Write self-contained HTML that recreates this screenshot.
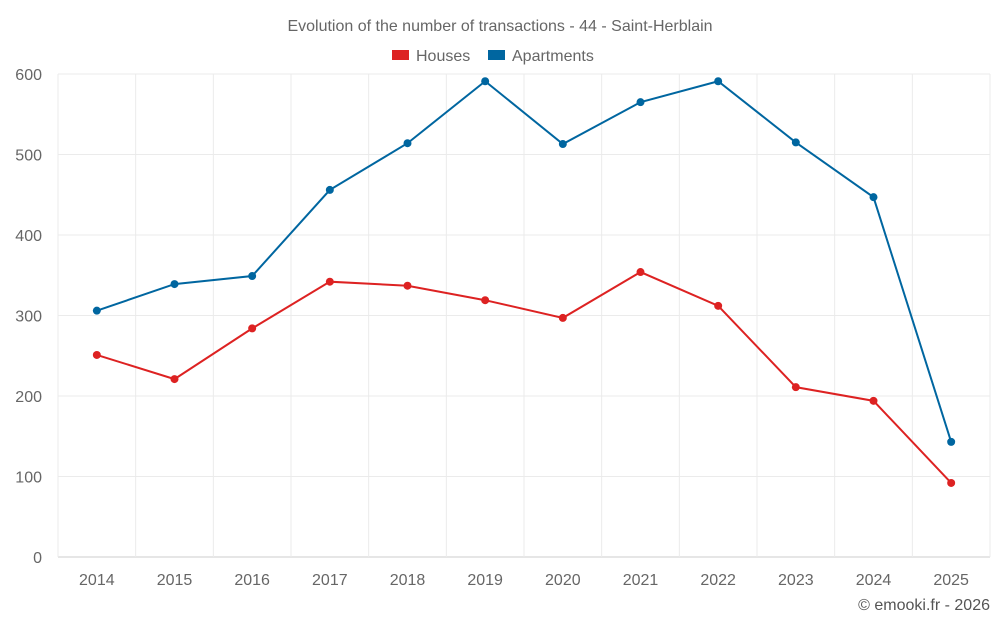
<!DOCTYPE html>
<html><head><meta charset="utf-8"><style>
html,body{margin:0;padding:0;background:#fff;width:1000px;height:625px;overflow:hidden}
svg{font-family:"Liberation Sans",sans-serif}
</style></head><body>
<svg id="chart" width="1000" height="625">
<text x="500" y="31" text-anchor="middle" font-size="16" fill="#666">Evolution of the number of transactions - 44 - Saint-Herblain</text>
<g>
<g><rect x="392" y="50" width="17" height="10" fill="#dd2222"/><text x="416" y="61" font-size="16" fill="#666">Houses</text></g>
<g><rect x="488" y="50" width="17" height="10" fill="#0066a0"/><text x="512" y="61" font-size="16" fill="#666">Apartments</text></g>
</g>
<g id="grid"></g><g id="axes"></g><g id="series"></g>
<text x="990" y="610" text-anchor="end" font-size="16" fill="#555">© emooki.fr - 2026</text>
</svg>
<script>
const categories=["2014","2015","2016","2017","2018","2019","2020","2021","2022","2023","2024","2025"];
const houses=[251,221,284,342,337,319,297,354,312,211,194,92];
const apartments=[306,339,349,456,514,591,513,565,591,515,447,143];
const yTicks=[0,100,200,300,400,500,600];
const NS="http://www.w3.org/2000/svg";
const L=58,R=990,T=74,B=557,yMax=600;
const band=(R-L)/categories.length;
const xs=i=>L+band*(i+0.5);
const ys=v=>B-(v/yMax)*(B-T);
function mk(tag,attrs,parent){const e=document.createElementNS(NS,tag);for(const k in attrs)e.setAttribute(k,attrs[k]);parent.appendChild(e);return e;}
const grid=document.getElementById('grid'),axes=document.getElementById('axes'),ser=document.getElementById('series');
yTicks.forEach(t=>{
 const g=mk('line',{x1:L,x2:R,y1:ys(t),y2:ys(t),stroke:t===0?'#ccc':'#ebebeb'},grid);
 
 
 const tx=mk('text',{x:42,y:ys(t)+6,'text-anchor':'end','font-size':16,fill:'#666'},axes);
 tx.textContent=t;
 
 
});
for(let i=0;i<=categories.length;i++){
 const v=mk('line',{x1:L+band*i,x2:L+band*i,y1:T,y2:B,stroke:'#ebebeb'},grid);
 
 
}
categories.forEach((c,i)=>{
 const tx=mk('text',{x:xs(i),y:585,'text-anchor':'middle','font-size':16,fill:'#666'},axes);
 tx.textContent=c;
 
 
});
function drawSeries(vals,color,name){
 const p=mk('polyline',{points:vals.map((v,i)=>xs(i)+','+ys(v)).join(' '),fill:'none',stroke:color,'stroke-width':2},ser);
 
 
 vals.forEach((v,i)=>{
  const c=mk('circle',{cx:xs(i),cy:ys(v),r:4,fill:color},ser);
  
  
 });
}
drawSeries(houses,'#dd2222','houses');
drawSeries(apartments,'#0066a0','apartments');
</script>
</body></html>
